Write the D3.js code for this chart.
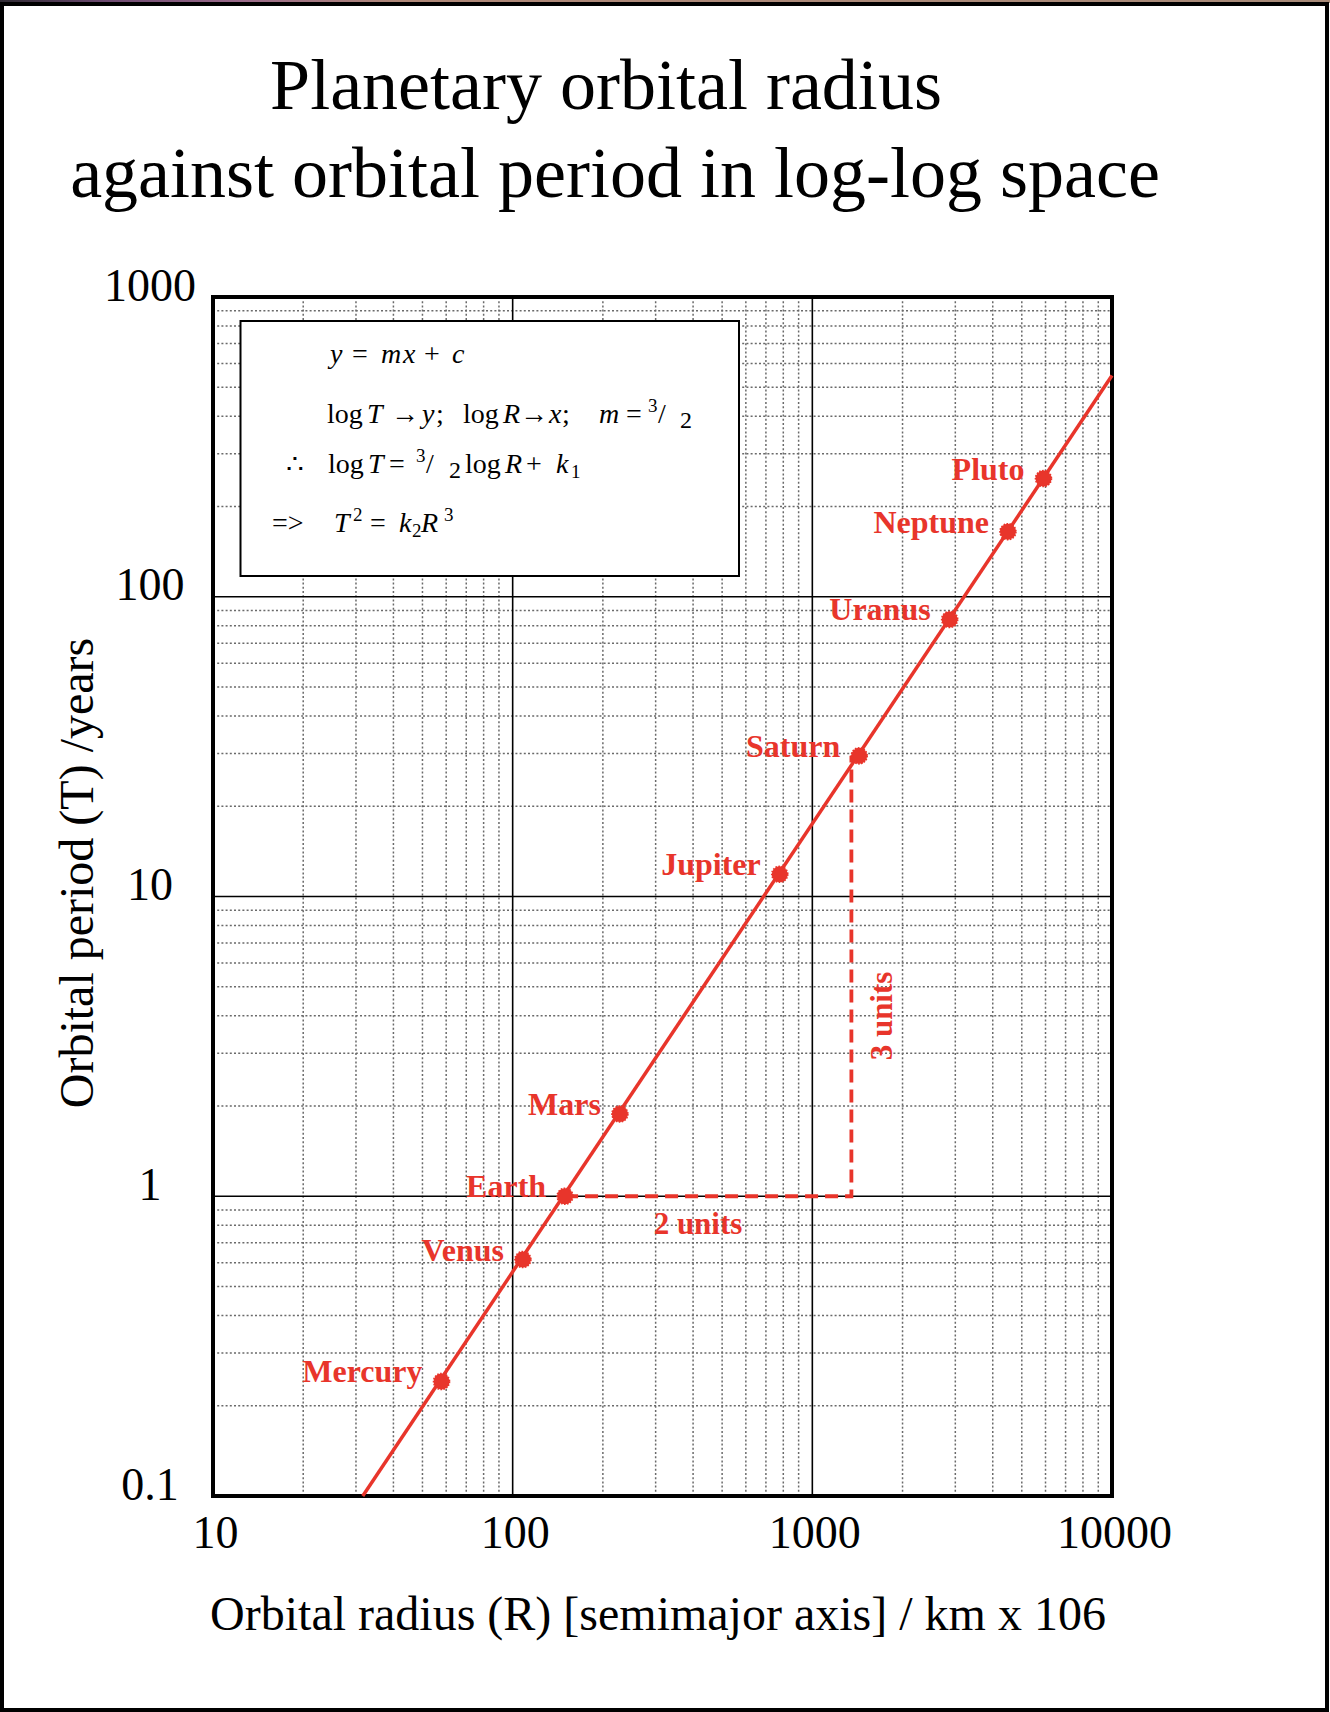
<!DOCTYPE html>
<html>
<head>
<meta charset="utf-8">
<script src="https://cdn.jsdelivr.net/npm/d3@7"></script>
<style>
  body { margin: 0; background: #fff; }
  svg text { font-family: "Liberation Serif", "Times New Roman", serif; }
</style>
</head>
<body>
<svg id="chart" width="1330" height="1712"></svg>
<script>
// planet data: semimajor axis (10^6 km) and orbital period (years)
const planets = ["Mercury", "Venus", "Earth", "Mars", "Jupiter", "Saturn", "Uranus", "Neptune", "Pluto"];
const radius = [57.9, 108.2, 149.6, 227.9, 778.6, 1433.5, 2872.5, 4495.1, 5906.4];
const period = [0.241, 0.615, 1.0, 1.881, 11.86, 29.46, 84.01, 164.8, 247.9];

// fitted line ends
const fitR = [31.6, 10000];
const fitT = [0.1, 547];

// "2 units / 3 units" construction lines
const unitR = [149.6, 1350, 1350];
const unitT = [1, 1, 29.46];

const xTicks = [10, 100, 1000, 10000];
const yTicks = [0.1, 1, 10, 100, 1000];

const red = "#e8352b";

const svg = d3.select("#chart");

const x = d3.scaleLog().domain([10, 10000]).range([213, 1112]);
const y = d3.scaleLog().domain([0.1, 1000]).range([1496, 297]);

function isMajor(t) {
  const l = Math.log10(t);
  return Math.abs(l - Math.round(l)) < 1e-9;
}

// top strip + page border (screenshot frame)
const grad = svg.append("defs").append("linearGradient").attr("id", "strip");
[["0%", "#2f2a33"], ["8%", "#6d4a70"], ["18%", "#9a6a8a"], ["30%", "#b08878"], ["100%", "#a88a78"]]
  .forEach(s => grad.append("stop").attr("offset", s[0]).attr("stop-color", s[1]));
svg.append("rect").attr("x", 0).attr("y", 0).attr("width", 1330).attr("height", 3).attr("fill", "url(#strip)");
svg.append("rect")
  .attr("x", 2).attr("y", 4).attr("width", 1325).attr("height", 1706)
  .attr("fill", "none").attr("stroke", "#000").attr("stroke-width", 4);

// title
svg.append("text").attr("x", 606).attr("y", 109).attr("text-anchor", "middle")
  .attr("font-size", 72).text("Planetary orbital radius");
svg.append("text").attr("x", 615).attr("y", 197).attr("text-anchor", "middle")
  .attr("font-size", 72).text("against orbital period in log-log space");

const grid = svg.append("g");

// minor grid, dotted
grid.selectAll(".vminor").data(x.ticks().filter(t => !isMajor(t)))
  .enter().append("line")
  .attr("x1", d => x(d)).attr("x2", d => x(d))
  .attr("y1", y(1000)).attr("y2", y(0.1))
  .attr("stroke", "#6a6a6a").attr("stroke-width", 1.5).attr("stroke-dasharray", "2,2.2");
grid.selectAll(".hminor").data(y.ticks().filter(t => !isMajor(t)))
  .enter().append("line")
  .attr("y1", d => y(d)).attr("y2", d => y(d))
  .attr("x1", x(10)).attr("x2", x(10000))
  .attr("stroke", "#6a6a6a").attr("stroke-width", 1.5).attr("stroke-dasharray", "2,2.2");

// major grid, solid
grid.selectAll(".vmajor").data(xTicks.slice(1, -1))
  .enter().append("line")
  .attr("x1", d => x(d)).attr("x2", d => x(d))
  .attr("y1", y(1000)).attr("y2", y(0.1))
  .attr("stroke", "#000").attr("stroke-width", 1.6);
grid.selectAll(".hmajor").data(yTicks.slice(1, -1))
  .enter().append("line")
  .attr("y1", d => y(d)).attr("y2", d => y(d))
  .attr("x1", x(10)).attr("x2", x(10000))
  .attr("stroke", "#000").attr("stroke-width", 1.6);

// equation box
svg.append("rect")
  .attr("x", 240.5).attr("y", 321).attr("width", 498.5).attr("height", 255)
  .attr("fill", "#fff").attr("stroke", "#000").attr("stroke-width", 2);

const eq = svg.append("g").attr("font-size", 28);

// each piece: [text, x, kind]; kind i = italic, sup / sub = small raised / lowered
function eqLine(y0, parts) {
  parts.forEach(p => {
    const t = eq.append("text").attr("x", p[1]).attr("y", y0).text(p[0]);
    if (p[2] === "i") t.attr("font-style", "italic");
    if (p[2] === "sup") t.attr("font-size", 19).attr("y", y0 - 11);
    if (p[2] === "sub") t.attr("font-size", 24).attr("y", y0 + 5);
    if (p[2] === "s") t.attr("font-size", 19).attr("y", y0 + 5);
  });
}

eqLine(363, [["y", 330, "i"], ["=", 352], ["m", 381, "i"], ["x", 403, "i"], ["+", 424], ["c", 452, "i"]]);
eqLine(423, [["log", 327], ["T", 367, "i"], ["\u2192", 391], ["y", 422, "i"], [";", 436],
  ["log", 463], ["R", 503, "i"], ["\u2192", 520], ["x", 549, "i"], [";", 562],
  ["m", 599, "i"], ["=", 626], ["3", 648, "sup"], ["/", 658], ["2", 680, "sub"]]);
eqLine(473, [["\u2234", 286], ["log", 328], ["T", 368, "i"], ["=", 389], ["3", 416, "sup"], ["/", 426], ["2", 449, "sub"],
  ["log", 465], ["R", 505, "i"], ["+", 526], ["k", 556, "i"], ["1", 571, "s"]]);
eqLine(532, [["=>", 272], ["T", 334, "i"], ["2", 353, "sup"], ["=", 370], ["k", 399, "i"], ["2", 412, "s"], ["R", 421, "i"], ["3", 444, "sup"]]);

// plot frame
svg.append("rect")
  .attr("x", x(10)).attr("y", y(1000))
  .attr("width", x(10000) - x(10)).attr("height", y(0.1) - y(1000))
  .attr("fill", "none").attr("stroke", "#000").attr("stroke-width", 4);

// axes: tick labels only
const xAxis = svg.append("g")
  .attr("transform", `translate(0,${y(0.1)})`)
  .call(d3.axisBottom(x).tickValues(xTicks).tickFormat(d => String(d)).tickSize(0));
xAxis.select(".domain").remove();
xAxis.selectAll("text")
  .attr("font-family", null).attr("font-size", 46).attr("fill", "#000")
  .attr("dy", null).attr("y", 52).attr("x", 2);

const yAxis = svg.append("g")
  .attr("transform", `translate(${x(10)},0)`)
  .call(d3.axisLeft(y).tickValues(yTicks).tickFormat(d => String(d)).tickSize(0));
yAxis.select(".domain").remove();
yAxis.selectAll("text")
  .attr("font-family", null).attr("font-size", 46).attr("fill", "#000")
  .attr("text-anchor", "middle").attr("dy", null).attr("x", -63).attr("y", 3);

// axis titles
svg.append("text").attr("x", 658).attr("y", 1630).attr("text-anchor", "middle")
  .attr("font-size", 48).text("Orbital radius (R) [semimajor axis] / km x 106");
svg.append("text").attr("transform", "translate(93,873) rotate(-90)").attr("text-anchor", "middle")
  .attr("font-size", 48).text("Orbital period (T) /years");

// fitted line
const fit = fitR.map((r, i) => [r, fitT[i]]);
svg.append("path")
  .attr("d", d3.line().x(d => x(d[0])).y(d => y(d[1]))(fit))
  .attr("fill", "none").attr("stroke", red).attr("stroke-width", 3.5);

// construction lines
const units = unitR.map((r, i) => [r, unitT[i]]);
svg.append("path")
  .attr("d", d3.line().x(d => x(d[0])).y(d => y(d[1]))(units))
  .attr("fill", "none").attr("stroke", red).attr("stroke-width", 3.8)
  .attr("stroke-dasharray", "13,7");

svg.append("text").attr("x", 698).attr("y", 1234).attr("text-anchor", "middle")
  .attr("font-size", 31).attr("font-weight", "bold").attr("fill", red).text("2 units");
svg.append("text").attr("transform", "translate(892,1016) rotate(-90)").attr("text-anchor", "middle")
  .attr("font-size", 31).attr("font-weight", "bold").attr("fill", red).text("3 units");

// planets
const pts = planets.map((p, i) => ({ name: p, r: radius[i], t: period[i] }));
svg.selectAll(".dot").data(pts).enter().append("circle")
  .attr("cx", d => x(d.r)).attr("cy", d => y(d.t)).attr("r", 8)
  .attr("fill", red).attr("stroke", red).attr("stroke-width", 1.6)
  .attr("stroke-dasharray", "1.6,1.4");
svg.selectAll(".lbl").data(pts).enter().append("text")
  .attr("x", d => x(d.r) - 19).attr("y", d => y(d.t) + 1)
  .attr("text-anchor", "end").attr("font-size", 32).attr("font-weight", "bold")
  .attr("fill", red).text(d => d.name);
</script>
</body>
</html>
